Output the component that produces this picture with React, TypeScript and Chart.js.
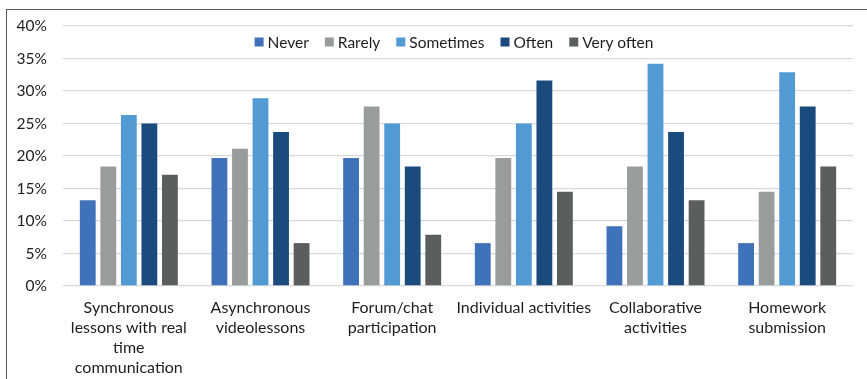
import React, { useEffect, useRef } from "react";
import { Chart, registerables } from "chart.js";

Chart.register(...registerables);

// Activity categories (multi-line axis labels)
const categories: string[][] = [
  ["Synchronous", "lessons with real", "time", "communication"],
  ["Asynchronous", "videolessons"],
  ["Forum/chat", "participation"],
  ["Individual activities"],
  ["Collaborative", "activities"],
  ["Homework", "submission"],
];

const seriesNames = ["Never", "Rarely", "Sometimes", "Often", "Very often"];
const seriesColors = ["#4072BA", "#999C9D", "#529AD4", "#1B4A7D", "#5B5E5F"];

// Share of respondents (%) per frequency
const never = [13.2, 19.7, 19.7, 6.6, 9.2, 6.6];
const rarely = [18.4, 21.1, 27.6, 19.7, 18.4, 14.5];
const sometimes = [26.3, 28.9, 25.0, 25.0, 34.2, 32.9];
const often = [25.0, 23.7, 18.4, 31.6, 23.7, 27.6];
const veryOften = [17.1, 6.6, 7.9, 14.5, 13.2, 18.4];

const yMin = 0;
const yMax = 40;
const yStep = 5;

const FONT = "Lato, 'Noto Sans', sans-serif";

// Legend drawn inside the plot area, centred near the top
const insideLegend = {
  id: "insideLegend",
  afterDatasetsDraw(chart: any) {
    const { ctx, chartArea } = chart;
    ctx.save();
    ctx.font = `15.5px ${FONT}`;
    ctx.textBaseline = "middle";
    const box = 9;
    const boxGap = 4;
    const itemGap = 16;
    const items = chart.data.datasets.map((ds: any) => ({
      label: ds.label as string,
      color: ds.backgroundColor as string,
      w: ctx.measureText(ds.label).width,
    }));
    const total =
      items.reduce((s: number, it: any) => s + box + boxGap + it.w, 0) +
      itemGap * (items.length - 1);
    let x = (chartArea.left + chartArea.right) / 2 - total / 2 - 4;
    const y = chartArea.top + 16;
    for (const it of items) {
      ctx.fillStyle = it.color;
      ctx.fillRect(x, y - box / 2, box, box);
      x += box + boxGap;
      ctx.fillStyle = "#1e1e1e";
      ctx.fillText(it.label, x, y + 1);
      x += it.w + itemGap;
    }
    ctx.restore();
  },
};

export default function App() {
  const canvasRef = useRef<HTMLCanvasElement | null>(null);

  useEffect(() => {
    if (!canvasRef.current) return;
    const values = [never, rarely, sometimes, often, veryOften];
    const chart = new Chart(canvasRef.current, {
      type: "bar",
      data: {
        labels: categories,
        datasets: seriesNames.map((name, i) => ({
          label: name,
          data: values[i],
          backgroundColor: seriesColors[i],
          borderWidth: 0,
          categoryPercentage: 0.78,
          barPercentage: 0.77,
        })),
      },
      options: {
        responsive: false,
        animation: false,
        layout: { padding: { left: 0, right: 14, top: 26, bottom: 0 } },
        plugins: {
          legend: { display: false },
          tooltip: { enabled: false },
        },
        scales: {
          x: {
            grid: { display: false },
            border: { display: false },
            ticks: {
              color: "#1e1e1e",
              font: { family: FONT, size: 16, lineHeight: 1.25 },
              padding: 4,
              maxRotation: 0,
              autoSkip: false,
            },
            afterFit: (s: any) => {
              s.height = 93;
            },
          },
          y: {
            min: yMin,
            max: yMax,
            border: { display: false },
            grid: { color: "#D9D9D9", lineWidth: 1.3, drawTicks: false },
            ticks: {
              stepSize: yStep,
              color: "#1e1e1e",
              font: { family: FONT, size: 15.5 },
              padding: 16,
              callback: (v: any) => `${v}%`,
            },
            afterFit: (s: any) => {
              s.width = 63;
            },
          },
        },
      },
      plugins: [insideLegend],
    });
    return () => chart.destroy();
  }, []);

  return (
    <div
      style={{
        position: "fixed",
        left: 0,
        top: 0,
        width: 867,
        height: 379,
        background: "#ffffff",
      }}
    >
      <canvas ref={canvasRef} width={867} height={379} style={{ display: "block" }} />
      <div
        style={{
          position: "absolute",
          left: 6,
          top: 9,
          right: 0,
          bottom: 0,
          borderLeft: "1.5px solid #5a5a5a",
          borderTop: "1.5px solid #5a5a5a",
          pointerEvents: "none",
        }}
      />
    </div>
  );
}
